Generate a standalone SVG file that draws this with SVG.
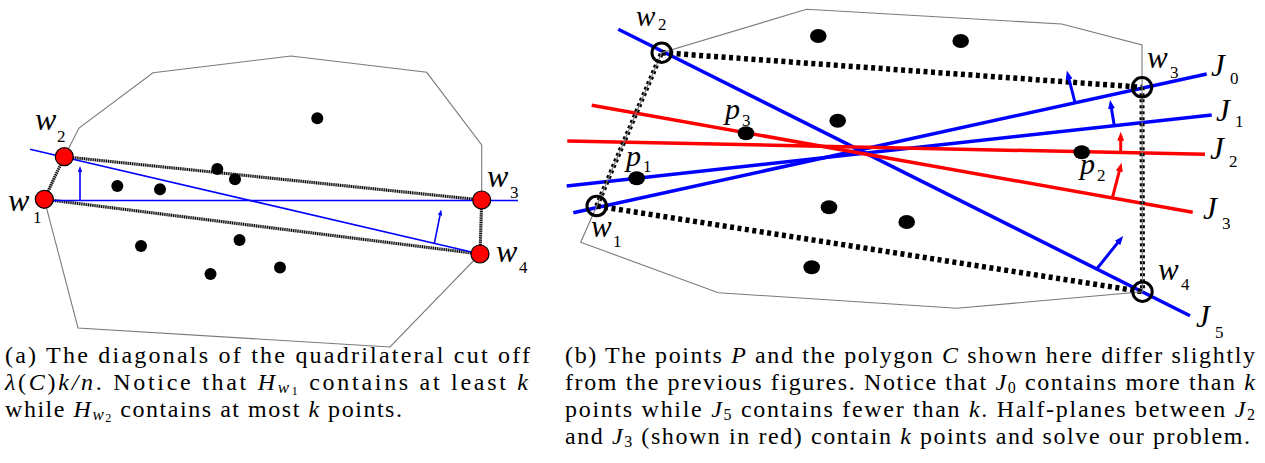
<svg xmlns="http://www.w3.org/2000/svg" width="1265" height="463" viewBox="0 0 1265 463">
<defs>
<style>
.poly{fill:none;stroke:#7a7a7a;stroke-width:1.1}
.hatchA{stroke:#000;stroke-width:3;stroke-dasharray:1 1.2;fill:none}
.hatchAb{stroke:#a8a8a8;stroke-width:3;fill:none}
.dashB{stroke:#000;stroke-width:5.5;stroke-dasharray:4 3.5;fill:none}
.dashS{stroke:#000;stroke-width:5;stroke-dasharray:3 3;fill:none}
.blA{stroke:#0000ff;stroke-width:1.6;fill:none}
.blB{stroke:#0000ff;stroke-width:3.5;fill:none}
.rdB{stroke:#ff0000;stroke-width:3.5;fill:none}
.arA{stroke:#0000ff;stroke-width:1.6;fill:none;marker-end:url(#hA)}
.arBb{stroke:#0000ff;stroke-width:3;fill:none;marker-end:url(#hB)}
.arBr{stroke:#ff0000;stroke-width:3;fill:none;marker-end:url(#hR)}
.rn{fill:#ff0000;stroke:#000;stroke-width:1.2}
.ring{fill:none;stroke:#000;stroke-width:3}
.pt{fill:#000}
.v{font-family:"Liberation Serif",serif;font-style:italic;fill:#000}
.s{font-family:"Liberation Serif",serif;font-size:17px;fill:#000}
.cap{font-family:"Liberation Serif",serif;font-size:24px;fill:#000}
.m{font-style:italic}
</style>
<marker id="hA" markerUnits="userSpaceOnUse" markerWidth="7" markerHeight="5" refX="1" refY="2.2" orient="auto"><path d="M0,0 L6,2.2 L0,4.4 z" fill="#0000ff"/></marker>
<marker id="hB" markerUnits="userSpaceOnUse" markerWidth="10" markerHeight="8" refX="2" refY="3.5" orient="auto"><path d="M0,0 L9,3.5 L0,7 z" fill="#0000ff"/></marker>
<marker id="hR" markerUnits="userSpaceOnUse" markerWidth="10" markerHeight="8" refX="2" refY="3.5" orient="auto"><path d="M0,0 L9,3.5 L0,7 z" fill="#ff0000"/></marker>
</defs>
<rect width="1265" height="463" fill="#fff"/>

<!-- Panel (a) -->
<g id="a-polygon">
<polyline class="poly" points="64.3,156.7 79,128 153,72.7 291,56 426.7,72.3 481.7,145 481.7,200"/>
<polyline class="poly" points="480,254 390,347 78,328 44.3,199.3"/>
</g>
<g id="a-connectors">
<line class="hatchAb" x1="64.3" y1="156.7" x2="481.7" y2="200"/>
<line class="hatchA" x1="64.3" y1="156.7" x2="481.7" y2="200"/>
<line class="hatchAb" x1="44.3" y1="199.3" x2="480" y2="254"/>
<line class="hatchA" x1="44.3" y1="199.3" x2="480" y2="254"/>
<line class="hatchAb" x1="44.3" y1="199.3" x2="64.3" y2="156.7"/>
<line class="hatchA" x1="44.3" y1="199.3" x2="64.3" y2="156.7"/>
<line class="hatchAb" x1="481.7" y1="200" x2="480" y2="254"/>
<line class="hatchA" x1="481.7" y1="200" x2="480" y2="254"/>
<line class="blA" x1="44" y1="200.5" x2="518" y2="200.5"/>
<line class="blA" x1="30" y1="149.3" x2="480" y2="254"/>
<line class="arA" x1="80" y1="200" x2="80" y2="171"/>
<line class="arA" x1="434.4" y1="243.2" x2="440.2" y2="214.4"/>
</g>
<g id="a-points">
<circle class="pt" cx="117.3" cy="186" r="6"/>
<circle class="pt" cx="160" cy="189.3" r="6"/>
<circle class="pt" cx="217.3" cy="169" r="6"/>
<circle class="pt" cx="235" cy="179.3" r="6"/>
<circle class="pt" cx="317.3" cy="118.3" r="6"/>
<circle class="pt" cx="141" cy="246" r="6"/>
<circle class="pt" cx="239.5" cy="240" r="6"/>
<circle class="pt" cx="210.5" cy="274" r="6"/>
<circle class="pt" cx="280" cy="267.5" r="6"/>
</g>
<g id="a-w1"><circle class="rn" cx="44.3" cy="199.3" r="9"/><text class="v" x="8" y="211" font-size="32">w</text><text class="s" x="33" y="223">1</text></g>
<g id="a-w2"><circle class="rn" cx="64.3" cy="156.7" r="9"/><text class="v" x="35" y="130" font-size="32">w</text><text class="s" x="57" y="142">2</text></g>
<g id="a-w3"><circle class="rn" cx="481.7" cy="200" r="9"/><text class="v" x="487" y="187" font-size="32">w</text><text class="s" x="510" y="198">3</text></g>
<g id="a-w4"><circle class="rn" cx="480" cy="254" r="9"/><text class="v" x="496" y="262" font-size="32">w</text><text class="s" x="519" y="273">4</text></g>

<!-- Panel (b) -->
<g id="b-connectors">
<line class="blB" x1="573.3" y1="212.7" x2="1206.7" y2="74"/>
<line class="blB" x1="566.7" y1="186" x2="1211.7" y2="115"/>
<line class="blB" x1="618.3" y1="29.3" x2="1190" y2="315.7"/>
<line class="rdB" x1="567.3" y1="141" x2="1205" y2="154.3"/>
<line class="rdB" x1="591.7" y1="105.3" x2="1192.7" y2="212.3"/>
<line class="dashB" x1="661.7" y1="52.7" x2="1142" y2="87.3"/>
<line class="dashB" x1="596.7" y1="206" x2="1142.5" y2="291.7"/>
<line class="dashS" x1="596.7" y1="206" x2="661.7" y2="52.7"/>
<line class="dashS" x1="1142" y1="87.3" x2="1142.5" y2="291.7"/>
<polygon id="b-polygon" class="poly" points="596.7,206 580.7,242.3 718.3,292.7 956.7,308.3 1142.5,291.7 1142,45 1061.7,24 806.7,9.3 661.7,52.7"/>
<line class="arBb" x1="1075" y1="102.5" x2="1068.6" y2="77.4"/>
<line class="arBb" x1="1114.3" y1="125.8" x2="1111.2" y2="106.9"/>
<line class="arBr" x1="1120.7" y1="152.6" x2="1120.7" y2="138.7"/>
<line class="arBr" x1="1112.3" y1="198" x2="1119.8" y2="169.4"/>
<line class="arBb" x1="1096.7" y1="269" x2="1118.8" y2="241.4"/>
</g>
<g id="b-points">
<ellipse class="pt" cx="818.3" cy="36" rx="8.3" ry="7"/>
<ellipse class="pt" cx="960.7" cy="41" rx="8.3" ry="7"/>
<ellipse class="pt" cx="837.7" cy="120.7" rx="8.3" ry="7"/>
<ellipse class="pt" cx="829" cy="207.3" rx="8.3" ry="7"/>
<ellipse class="pt" cx="906.7" cy="222" rx="8.3" ry="7"/>
<ellipse class="pt" cx="811.7" cy="267.3" rx="8.3" ry="7"/>
</g>
<g id="b-p1"><ellipse class="pt" cx="636.7" cy="178.3" rx="8.3" ry="7"/><text class="v" x="626" y="166" font-size="30">p</text><text class="s" x="643" y="172">1</text></g>
<g id="b-p2"><ellipse class="pt" cx="1081.7" cy="152.3" rx="8.3" ry="7"/><text class="v" x="1080" y="174" font-size="30">p</text><text class="s" x="1097" y="181">2</text></g>
<g id="b-p3"><ellipse class="pt" cx="746" cy="133.3" rx="8.3" ry="7"/><text class="v" x="725" y="119" font-size="30">p</text><text class="s" x="742" y="126">3</text></g>
<g id="b-w1"><circle class="ring" cx="596.7" cy="206" r="9.7"/><text class="v" x="591" y="237" font-size="31">w</text><text class="s" x="613" y="247">1</text></g>
<g id="b-w2"><circle class="ring" cx="661.7" cy="52.7" r="9.7"/><text class="v" x="636" y="26" font-size="29">w</text><text class="s" x="658" y="30">2</text></g>
<g id="b-w3"><circle class="ring" cx="1142" cy="87.3" r="9.7"/><text class="v" x="1147" y="68" font-size="31">w</text><text class="s" x="1170" y="78">3</text></g>
<g id="b-w4"><circle class="ring" cx="1142.5" cy="291.7" r="9.7"/><text class="v" x="1158" y="280" font-size="31">w</text><text class="s" x="1181" y="290">4</text></g>
<g id="b-J0"><text class="v" x="1211" y="76" font-size="31">J</text><text class="s" x="1230" y="84">0</text></g>
<g id="b-J1"><text class="v" x="1216" y="121" font-size="31">J</text><text class="s" x="1235" y="127">1</text></g>
<g id="b-J2"><text class="v" x="1210" y="159" font-size="31">J</text><text class="s" x="1229" y="167">2</text></g>
<g id="b-J3"><text class="v" x="1203" y="219" font-size="31">J</text><text class="s" x="1222" y="229">3</text></g>
<g id="b-J5"><text class="v" x="1196" y="327" font-size="31">J</text><text class="s" x="1215" y="338">5</text></g>

<!-- Captions -->
<g id="caption-a">
<text class="cap" x="5" y="363" textLength="525" lengthAdjust="spacing">(a) The diagonals of the quadrilateral cut off</text>
<text class="cap" x="5" y="390" textLength="523" lengthAdjust="spacing"><tspan class="m">λ</tspan>(<tspan class="m">C</tspan>)<tspan class="m">k/n</tspan>.  Notice that <tspan class="m">H</tspan><tspan class="m" font-size="17" dy="3">w</tspan><tspan font-size="12" dy="1.5">1</tspan><tspan dy="-4.5"> contains at least </tspan><tspan class="m">k</tspan></text>
<text class="cap" x="5" y="417" textLength="397" lengthAdjust="spacing">while <tspan class="m">H</tspan><tspan class="m" font-size="17" dy="3">w</tspan><tspan font-size="12" dy="1.5">2</tspan><tspan dy="-4.5"> contains at most </tspan><tspan class="m">k</tspan> points.</text>
</g>
<g id="caption-b">
<text class="cap" x="565" y="363" textLength="690" lengthAdjust="spacing">(b) The points <tspan class="m">P</tspan> and the polygon <tspan class="m">C</tspan> shown here differ slightly</text>
<text class="cap" x="565" y="390" textLength="690" lengthAdjust="spacing">from the previous figures. Notice that <tspan class="m">J</tspan><tspan font-size="16" dy="3">0</tspan><tspan dy="-3"> contains more than </tspan><tspan class="m">k</tspan></text>
<text class="cap" x="565" y="417" textLength="690" lengthAdjust="spacing">points while <tspan class="m">J</tspan><tspan font-size="16" dy="3">5</tspan><tspan dy="-3"> contains fewer than </tspan><tspan class="m">k</tspan>.  Half-planes between <tspan class="m">J</tspan><tspan font-size="16" dy="3">2</tspan></text>
<text class="cap" x="565" y="444" textLength="685" lengthAdjust="spacing">and <tspan class="m">J</tspan><tspan font-size="16" dy="3">3</tspan><tspan dy="-3"> (shown in red) contain </tspan><tspan class="m">k</tspan> points and solve our problem.</text>
</g>
</svg>
